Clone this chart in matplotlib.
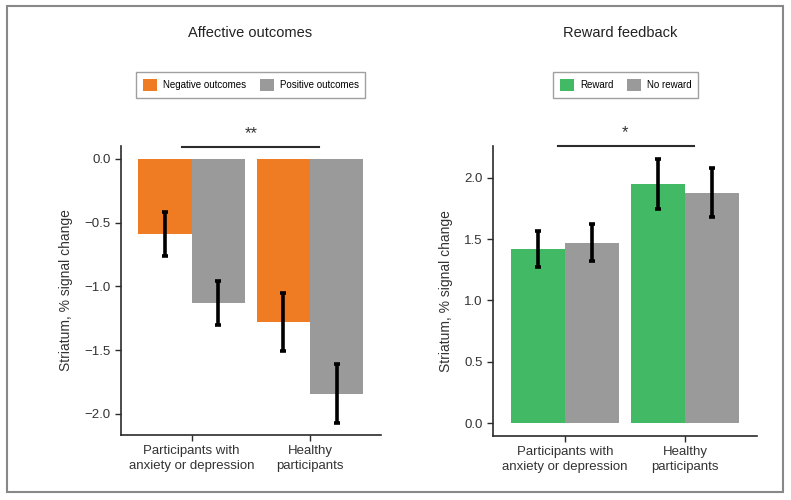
import matplotlib
matplotlib.use("Agg")
import matplotlib.pyplot as plt
import numpy as np
from matplotlib.patches import Rectangle

plt.rcParams['font.family'] = ['Liberation Sans', 'DejaVu Sans']

groups = ['Participants with\nanxiety or depression', 'Healthy\nparticipants']

# Affective outcomes
neg_vals = [-0.59, -1.28]
neg_err = [0.17, 0.23]
pos_vals = [-1.13, -1.84]
pos_err = [0.17, 0.23]

# Reward feedback
rew_vals = [1.42, 1.95]
rew_err = [0.15, 0.20]
norew_vals = [1.47, 1.88]
norew_err = [0.15, 0.20]

ORANGE = '#EF7B22'
GREEN = '#42B964'
GRAY = '#9A9A9A'
DARK = '#2b2b2b'

fig = plt.figure(figsize=(7.91, 5.0), dpi=100)
ax1 = fig.add_axes([0.153, 0.13, 0.329, 0.578])
ax2 = fig.add_axes([0.623, 0.128, 0.334, 0.58])

x = np.arange(len(groups))
w = 0.45


def style(ax):
    for s in ['top', 'right']:
        ax.spines[s].set_visible(False)
    for s in ['left', 'bottom']:
        ax.spines[s].set_color(DARK)
        ax.spines[s].set_linewidth(1.2)
    ax.tick_params(direction='out', length=4, width=1, color=DARK,
                   labelsize=9.5, labelcolor='#333333')
    ax.set_xticks(x)
    ax.set_xticklabels(groups, fontsize=9.5, linespacing=1.25)
    ax.set_ylabel('Striatum, % signal change', fontsize=10, color='#333333', labelpad=8)


eb = dict(ecolor='black', elinewidth=2.6, capsize=2.5, capthick=2.6)

# left panel
ax1.bar(x - w / 2, neg_vals, w, color=ORANGE, label='Negative outcomes')
ax1.bar(x + w / 2, pos_vals, w, color=GRAY, label='Positive outcomes')
ax1.errorbar(x - w / 2, neg_vals, yerr=neg_err, fmt='none', **eb)
ax1.errorbar(x + w / 2, pos_vals, yerr=pos_err, fmt='none', **eb)
ax1.set_xlim(-0.595, 1.6)
ax1.set_ylim(-2.165, 0.10)
ax1.set_yticks([0.0, -0.5, -1.0, -1.5, -2.0])
ax1.set_yticklabels(['0.0', '\u22120.5', '\u22121.0', '\u22121.5', '\u22122.0'])
style(ax1)
ax1.plot([-0.08, 1.075], [0.094, 0.094], color=DARK, lw=1.5, clip_on=False)
ax1.text(0.5, 0.14, '**', ha='center', va='bottom', fontsize=12, color='#333333')

# right panel
ax2.bar(x - w / 2, rew_vals, w, color=GREEN, label='Reward')
ax2.bar(x + w / 2, norew_vals, w, color=GRAY, label='No reward')
ax2.errorbar(x - w / 2, rew_vals, yerr=rew_err, fmt='none', **eb)
ax2.errorbar(x + w / 2, norew_vals, yerr=norew_err, fmt='none', **eb)
ax2.set_xlim(-0.6, 1.6)
ax2.set_ylim(-0.106, 2.26)
ax2.set_yticks([0.0, 0.5, 1.0, 1.5, 2.0])
style(ax2)
ax2.plot([-0.06, 1.075], [2.26, 2.26], color=DARK, lw=1.5, clip_on=False)
ax2.text(0.5, 2.31, '*', ha='center', va='bottom', fontsize=12, color='#333333')

# titles
fig.text(0.316, 0.934, 'Affective outcomes', ha='center', va='center', fontsize=10.5, color='#222222')
fig.text(0.784, 0.934, 'Reward feedback', ha='center', va='center', fontsize=10.5, color='#222222')

# legends
leg_kw = dict(ncol=2, fontsize=7, frameon=True, fancybox=False, edgecolor='#888888',
              handlelength=1.45, handleheight=1.45, columnspacing=1.4, handletextpad=0.6,
              borderpad=0.7, loc='center')
h1, l1 = ax1.get_legend_handles_labels()
lg1 = fig.legend(h1, l1, bbox_to_anchor=(0.317, 0.83), **leg_kw)
lg1.get_frame().set_linewidth(1.0)
h2, l2 = ax2.get_legend_handles_labels()
lg2 = fig.legend(h2, l2, bbox_to_anchor=(0.791, 0.83), **leg_kw)
lg2.get_frame().set_linewidth(1.0)

# outer frame
fig.patches.append(Rectangle((0.0088, 0.016), 0.981, 0.972, transform=fig.transFigure,
                             fill=False, edgecolor='#888888', lw=1.5))

fig.savefig('out.png', dpi=100)
